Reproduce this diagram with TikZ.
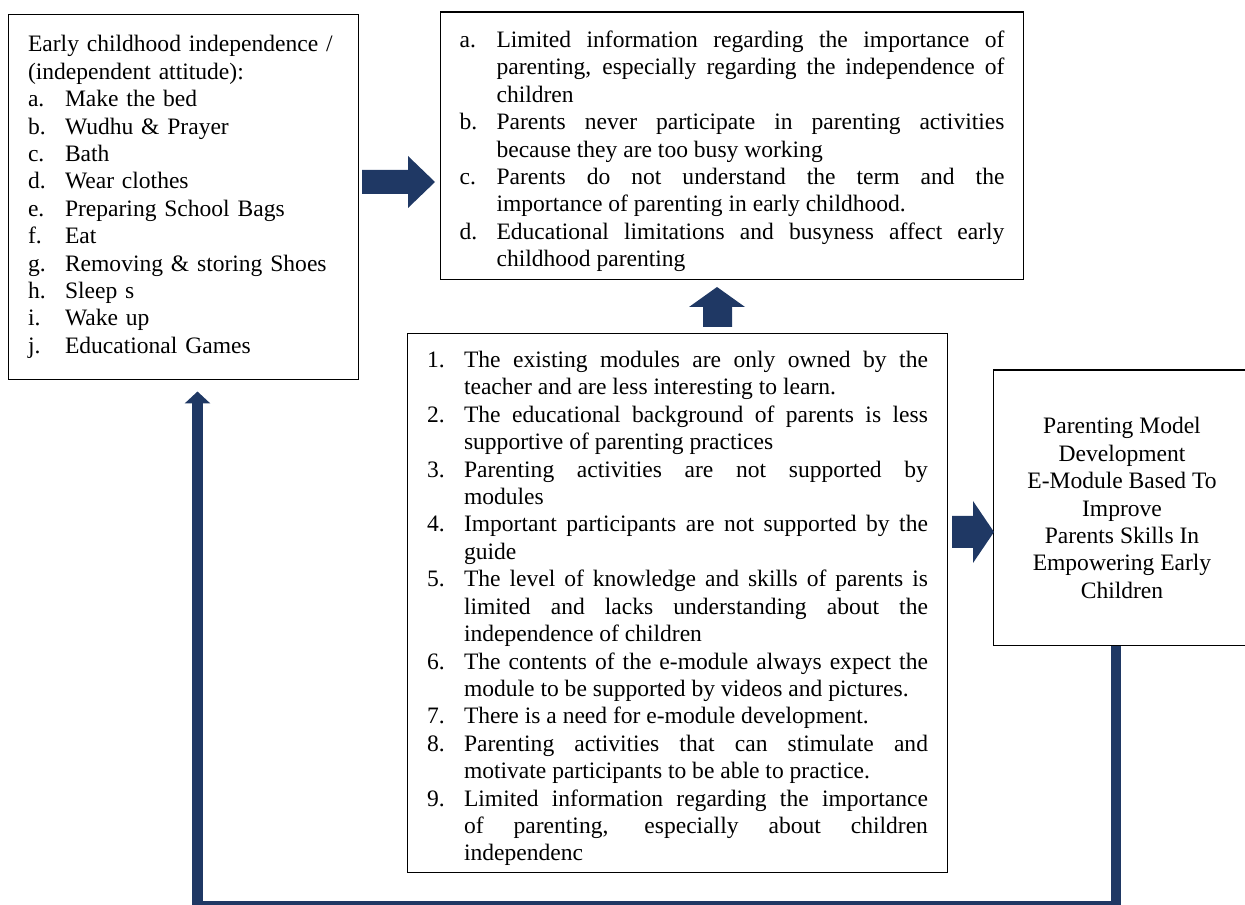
\documentclass[tikz,border=0pt]{standalone}
\usepackage{fontspec}
\setmainfont{Liberation Serif}
\usetikzlibrary{arrows.meta,calc}
\definecolor{navy}{RGB}{31,56,100}
\hyphenpenalty=10000
\exhyphenpenalty=10000
\tolerance=10000
\newcommand{\itm}[2]{\par\noindent\hangindent=0.74cm\hangafter=1\makebox[0.74cm][l]{#1}#2}
\tikzset{
  box/.style={draw=black, line width=0.6pt, rectangle, inner sep=0pt,
    font=\fontsize{13.4}{15.6}\selectfont},
  blockarrow/.style={fill=navy},
  feedback/.style={draw=navy, line width=6.2pt, -{Triangle[width=14.2pt,length=6.8pt]}}
}
\begin{document}
\begin{tikzpicture}[x=0.02cm, y=-0.02cm]
    \useasboundingbox (0,0) rectangle (1245,905);
    % boxes
    \node[box, minimum width=7.02cm, minimum height=7.32cm, text width=6.22cm, align=left] (indep) at (183.5,197) {%
      Early childhood independence /\\
      (independent attitude):
      \itm{a.}{Make the bed}
      \itm{b.}{Wudhu \& Prayer}
      \itm{c.}{Bath}
      \itm{d.}{Wear clothes}
      \itm{e.}{Preparing School Bags}
      \itm{f.}{Eat}
      \itm{g.}{Removing \& storing Shoes}
      \itm{h.}{Sleep s}
      \itm{i.}{Wake up}
      \itm{j.}{Educational Games}\par\vspace*{0.22cm}};
    \node[box, minimum width=11.68cm, minimum height=5.36cm, text width=10.9cm, align=justify] (problems) at (732,146) {%
      \itm{a.}{Limited information regarding the importance of\linebreak parenting, especially regarding the independence of\linebreak children}
      \itm{b.}{Parents never participate in parenting activities\linebreak because they are too busy working}
      \itm{c.}{Parents do not understand the term and the\linebreak importance of parenting in early childhood.}
      \itm{d.}{Educational limitations and busyness affect early\linebreak childhood parenting}\par};
    \node[box, minimum width=10.82cm, minimum height=10.8cm, text width=10.02cm, align=justify] (needs) at (677.5,603) {%
      \itm{1.}{The existing modules are only owned by the\linebreak teacher and are less interesting to learn.}
      \itm{2.}{The educational background of parents is less\linebreak supportive of parenting practices}
      \itm{3.}{Parenting activities are not supported by\linebreak modules}
      \itm{4.}{Important participants are not supported by the\linebreak guide}
      \itm{5.}{The level of knowledge and skills of parents is\linebreak limited and lacks understanding about the\linebreak independence of children}
      \itm{6.}{The contents of the e-module always expect the\linebreak module to be supported by videos and pictures.}
      \itm{7.}{There is a need for e-module development.}
      \itm{8.}{Parenting activities that can stimulate and\linebreak motivate participants to be able to practice.}
      \itm{9.}{Limited information regarding the importance\linebreak of parenting, especially about children\linebreak independenc}\par};
    \node[box, minimum width=5.16cm, minimum height=5.52cm, align=center] (model) at (1122,508) {%
      Parenting Model\\Development\\E-Module Based To\\Improve\\Parents Skills In\\Empowering Early\\Children};
    % block arrows
    \fill[blockarrow] (362,170) -- (408,170) -- (408,156) -- (435,182) -- (408,208) -- (408,194) -- (362,194) -- cycle;
    \fill[blockarrow] (703,327) -- (703,307) -- (689,307) -- (717,287) -- (745,307) -- (732,307) -- (732,327) -- cycle;
    \fill[blockarrow] (952,516) -- (973,516) -- (973,501) -- (994,532) -- (973,563) -- (973,548) -- (952,548) -- cycle;
    % feedback line
    \draw[feedback] ($(model.south)+(-6,0)$) -- ++(0,259.5) -| ($(indep.south)+(14,11)$);
  \end{tikzpicture}
\end{document}
